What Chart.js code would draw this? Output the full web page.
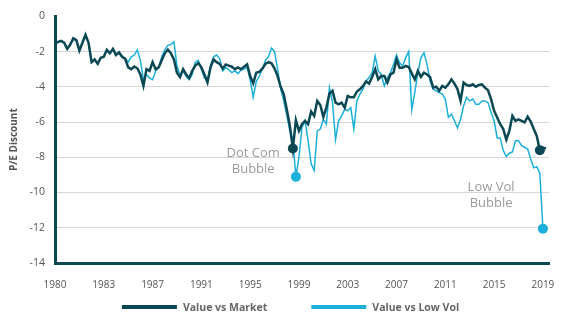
<!DOCTYPE html>
<html>
<head>
<meta charset="utf-8">
<script src="https://cdn.jsdelivr.net/npm/chart.js@4.4.1/dist/chart.umd.min.js"></script>
<style>
    html, body { margin: 0; padding: 0; background: #fff; }
</style>
</head>
<body>
<canvas id="peChart" width="579" height="321"></canvas>
<script>
// Year labels shown under the x axis, one every 16 points
var tickYears = ['1980', '1983', '1987', '1991', '1995', '1999', '2003', '2007', '2011', '2015', '2019'];
var tickEvery = 16;

var seriesNames = ['Value vs Market', 'Value vs Low Vol'];

// P/E discount
var valueVsMarket = [
    -1.55, -1.45, -1.4, -1.5, -1.85, -1.6, -1.25, -1.35, -1.95, -1.5,
    -1.05, -1.5, -2.6, -2.45, -2.7, -2.35, -2.3, -1.9, -2.1, -1.85,
    -2.2, -2.05, -2.3, -2.4, -2.9, -3.0, -2.85, -2.95, -3.3, -3.95,
    -3.0, -3.1, -2.6, -3.0, -2.9, -2.5, -2.1, -1.9, -2.1, -2.45,
    -3.2, -3.45, -3.0, -3.3, -3.5, -3.1, -2.8, -2.65, -2.9, -3.3,
    -3.75, -2.9, -2.45, -2.6, -2.7, -2.97, -2.73, -2.8, -2.86, -3.0,
    -2.9, -3.0, -2.86, -2.73, -3.39, -3.8, -3.2, -3.15, -2.97, -2.7,
    -2.6, -2.67, -2.97, -3.39, -4.0, -4.42, -5.27, -6.2, -7.5, -5.9,
    -6.5, -6.12, -5.93, -6.12, -5.4, -5.65, -4.8, -5.03, -5.7, -5.18,
    -4.38, -4.23, -4.9, -5.0, -4.9, -5.18, -4.52, -4.6, -4.6, -4.27,
    -4.14, -3.95, -3.7, -3.82, -3.44, -3.0, -3.58, -3.39, -3.39, -3.76,
    -3.3, -3.2, -2.45, -2.92, -2.92, -2.82, -2.88, -3.24, -3.58, -3.1,
    -3.44, -3.2, -3.3, -3.44, -4.05, -4.0, -4.23, -3.95, -4.05, -3.86,
    -3.58, -3.82, -4.14, -4.8, -3.76, -3.9, -3.95, -3.86, -4.0, -3.9,
    -3.86, -4.05, -4.2, -4.7, -5.36, -5.74, -6.12, -6.4, -7.0, -6.5,
    -5.65, -5.93, -5.85, -5.93, -6.02, -5.7, -5.97, -6.4, -6.8, -7.6,
    -7.45, -7.5, null
];

var valueVsLowVol = [
    -1.55, -1.45, -1.4, -1.5, -1.85, -1.6, -1.25, -1.35, -1.95, -1.5,
    -1.05, -1.5, -2.6, -2.45, -2.7, -2.35, -2.3, -1.9, -2.1, -1.85,
    -2.2, -2.05, -2.3, -2.4, -2.6, -2.3, -2.2, -1.9, -2.5, -3.6,
    -3.3, -3.5, -3.6, -3.1, -2.9, -2.3, -1.9, -1.65, -1.6, -1.45,
    -2.8, -3.35, -3.1, -3.4, -3.6, -3.3, -2.6, -2.5, -3.0, -3.5,
    -3.6, -2.8, -2.3, -2.2, -2.4, -3.1, -2.9, -3.05, -3.2, -3.1,
    -3.25, -3.05, -3.0, -2.9, -3.6, -4.6, -3.7, -3.4, -3.0, -2.5,
    -2.3, -1.8, -2.0, -3.0, -4.1, -4.8, -5.6, -6.5, -7.0, -9.1,
    -8.0, -6.3, -5.93, -7.06, -8.37, -8.75, -6.5, -6.4, -5.84, -6.12,
    -4.05, -4.9, -7.0, -5.93, -5.65, -5.27, -5.36, -5.18, -6.4, -4.8,
    -4.42, -4.14, -3.67, -3.48, -3.2, -2.26, -3.1, -3.3, -3.95, -3.48,
    -3.2, -2.73, -2.2, -2.64, -2.82, -2.36, -2.0, -5.3, -4.3, -3.2,
    -2.36, -2.07, -2.73, -3.67, -4.14, -4.23, -4.33, -4.42, -4.7, -5.74,
    -5.55, -5.93, -6.34, -5.84, -5.08, -4.61, -4.8, -4.7, -4.99, -4.99,
    -4.8, -4.8, -4.9, -5.46, -5.93, -6.9, -6.9, -7.62, -7.96, -7.77,
    -7.7, -7.06, -7.06, -7.34, -7.43, -7.53, -8.1, -8.6, -8.53, -8.9,
    -12.05, null, null
];

// points that carry a round marker
var marketMarks = [78, 159];
var lowVolMarks = [79, 160];

// annotation text, placed at (point index, value)
var noteText = [['Dot Com', 'Bubble'], ['Low Vol', 'Bubble']];
var noteAt = [65, 143];
var noteValue = [-7.8, -9.7];

var darkTeal = '#0b4854';
var lightBlue = '#1bb0da';
var fontFamily = '"Open Sans", "DejaVu Sans", sans-serif';

var labels = valueVsMarket.map(function (v, i) { return String(i); });

function markerRadius(marks, r) {
    return function (ctx) {
        return marks.indexOf(ctx.dataIndex) >= 0 ? r : 0;
    };
}

var notesAndLegend = {
    id: 'notesAndLegend',
    afterDraw: function (chart) {
        var ctx = chart.ctx;
        var x = chart.scales.x;
        var y = chart.scales.y;
        ctx.save();

        // bubble notes
        ctx.fillStyle = '#9b9b9b';
        ctx.font = '13px ' + fontFamily;
        ctx.textAlign = 'center';
        ctx.textBaseline = 'middle';
        noteText.forEach(function (lines, n) {
            var px = x.getPixelForValue(noteAt[n]);
            var py = y.getPixelForValue(noteValue[n]);
            lines.forEach(function (line, k) {
                ctx.fillText(line, px, py + k * 16);
            });
        });

        // legend with long line swatches
        ctx.font = 'bold 10.5px ' + fontFamily;
        ctx.textAlign = 'left';
        var sw = 55, gap = 6, between = 44;
        var sets = chart.data.datasets;
        var widths = sets.map(function (ds) { return sw + gap + ctx.measureText(ds.label).width; });
        var total = widths.reduce(function (a, b) { return a + b; }, 0) + between * (sets.length - 1);
        var left = (chart.width - total) / 2 + 1;
        var mid = chart.height - 14;
        sets.forEach(function (ds, k) {
            ctx.fillStyle = ds.borderColor;
            ctx.fillRect(left, mid - 2, sw, 4);
            ctx.fillStyle = '#666666';
            ctx.fillText(ds.label, left + sw + gap, mid + 1);
            left += widths[k] + between;
        });
        ctx.restore();
    }
};

var ctxPe = document.getElementById('peChart').getContext('2d');
var peChart = new Chart(ctxPe, {
    type: 'line',
    data: {
        labels: labels,
        datasets: [{
            label: seriesNames[0],
            data: valueVsMarket,
            borderColor: darkTeal,
            backgroundColor: darkTeal,
            borderWidth: 2.5,
            pointRadius: markerRadius(marketMarks, 5),
            pointHoverRadius: 0,
            pointBackgroundColor: darkTeal,
            pointBorderWidth: 0,
            tension: 0
        }, {
            label: seriesNames[1],
            data: valueVsLowVol,
            borderColor: lightBlue,
            backgroundColor: lightBlue,
            borderWidth: 1.5,
            pointRadius: markerRadius(lowVolMarks, 5),
            pointHoverRadius: 0,
            pointBackgroundColor: lightBlue,
            pointBorderWidth: 0,
            tension: 0
        }]
    },
    options: {
        responsive: false,
        animation: false,
        layout: { padding: { top: 9, right: 30, bottom: 30, left: 0 } },
        plugins: {
            legend: { display: false },
            tooltip: { enabled: false }
        },
        scales: {
            x: {
                type: 'category',
                offset: false,
                grid: { display: false },
                border: { color: darkTeal, width: 3 },
                ticks: {
                    autoSkip: false,
                    maxRotation: 0,
                    padding: 8,
                    color: '#555555',
                    font: { family: fontFamily, size: 10 },
                    callback: function (val, idx) {
                        return idx % tickEvery === 0 ? tickYears[idx / tickEvery] : null;
                    }
                },
                afterFit: function (scale) { scale.height = 28; }
            },
            y: {
                min: -14,
                max: 0,
                grid: {
                    drawTicks: false,
                    color: function (c) { return c.tick.value === 0 ? 'rgba(0,0,0,0)' : '#d6d6d6'; }
                },
                border: { color: darkTeal, width: 3 },
                ticks: {
                    stepSize: 2,
                    padding: 10,
                    color: '#555555',
                    font: { family: fontFamily, size: 10.5 }
                },
                title: {
                    display: true,
                    text: 'P/E Discount',
                    color: '#555555',
                    font: { family: fontFamily, size: 10, weight: 'bold' },
                    padding: { top: 8, bottom: 0 }
                },
                afterFit: function (scale) { scale.width = 55; }
            }
        }
    },
    plugins: [notesAndLegend]
});
</script>
</body>
</html>
